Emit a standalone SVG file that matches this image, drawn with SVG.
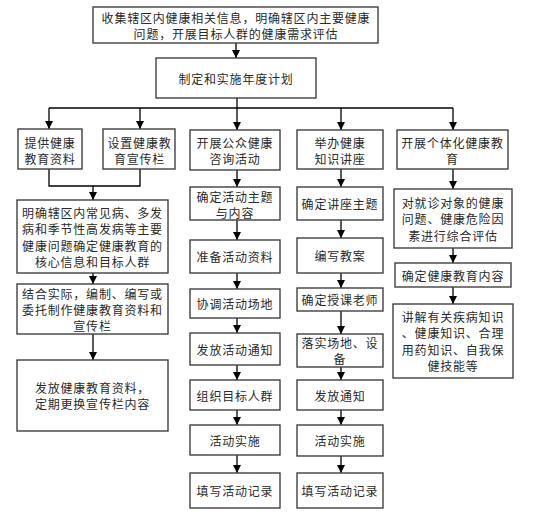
<svg xmlns="http://www.w3.org/2000/svg" width="541" height="517" viewBox="0 0 541 517">
<defs>
<marker id="ah" viewBox="0 0 10 10" refX="10" refY="5" markerWidth="9" markerHeight="8" markerUnits="userSpaceOnUse" orient="auto">
<path d="M0,0 L10,5 L0,10 z" fill="#000"/>
</marker>
</defs>
<style>
.b{fill:#fff;stroke:#404040;stroke-width:1.4}
.t{font-family:"Noto Sans CJK SC","Noto Sans",sans-serif;font-size:12px;letter-spacing:0.8px;fill:#2a2a2a;text-anchor:middle;dominant-baseline:central}
.c{fill:none;stroke:#000;stroke-width:1.3}
.a{marker-end:url(#ah)}
</style>
<rect width="541" height="517" fill="#fff"/>
<g id="connectors">
<line class="c a" x1="236" y1="43" x2="236" y2="58"/>
<polyline class="c" points="237,98 237,108"/>
<line class="c" x1="49" y1="108" x2="453" y2="108"/>
<line class="c a" x1="49" y1="108" x2="49" y2="129"/>
<line class="c a" x1="140" y1="108" x2="140" y2="129"/>
<line class="c a" x1="237" y1="108" x2="237" y2="130"/>
<line class="c a" x1="341" y1="108" x2="341" y2="130"/>
<line class="c a" x1="453" y1="108" x2="453" y2="130"/>
<polyline class="c" points="49,169 49,186 140,186 140,169"/>
<line class="c a" x1="93" y1="186" x2="93" y2="200"/>
<line class="c a" x1="93" y1="273" x2="93" y2="284"/>
<line class="c a" x1="93" y1="334" x2="93" y2="360"/>
<line class="c a" x1="237" y1="170" x2="237" y2="187"/>
<line class="c a" x1="237" y1="220" x2="237" y2="240"/>
<line class="c a" x1="237" y1="273" x2="237" y2="289"/>
<line class="c a" x1="237" y1="318" x2="237" y2="333"/>
<line class="c a" x1="237" y1="365" x2="237" y2="380"/>
<line class="c a" x1="237" y1="410" x2="237" y2="425"/>
<line class="c a" x1="237" y1="455" x2="237" y2="473"/>
<line class="c a" x1="341" y1="169" x2="341" y2="187"/>
<line class="c a" x1="341" y1="220" x2="341" y2="238"/>
<line class="c a" x1="341" y1="273" x2="341" y2="288"/>
<line class="c a" x1="341" y1="311" x2="341" y2="334"/>
<line class="c a" x1="341" y1="367" x2="341" y2="380"/>
<line class="c a" x1="341" y1="410" x2="341" y2="425"/>
<line class="c a" x1="341" y1="456" x2="341" y2="473"/>
<line class="c a" x1="453" y1="169" x2="453" y2="189"/>
<line class="c a" x1="453" y1="248" x2="453" y2="263"/>
<line class="c a" x1="453" y1="287" x2="453" y2="304"/>
</g>
<g id="n_top"><rect class="b" x="93" y="7" width="285" height="36"/><text class="t" x="236" y="17">收集辖区内健康相关信息，明确辖区内主要健康</text><text class="t" x="236" y="33">问题，开展目标人群的健康需求评估</text></g>
<g id="n_plan"><rect class="b" x="156" y="58" width="160" height="40"/><text class="t" x="236" y="78">制定和实施年度计划</text></g>
<g id="n_c1a"><rect class="b" x="18" y="129" width="64" height="40"/><text class="t" x="50" y="142">提供健康</text><text class="t" x="50" y="158">教育资料</text></g>
<g id="n_c2a"><rect class="b" x="103" y="129" width="72" height="40"/><text class="t" x="139.5" y="142">设置健康教</text><text class="t" x="139.5" y="158">育宣传栏</text></g>
<g id="n_c1b"><rect class="b" x="17" y="200" width="151" height="73"/><text class="t" x="92.5" y="212">明确辖区内常见病、多发</text><text class="t" x="92.5" y="228.5">病和季节性高发病等主要</text><text class="t" x="92.5" y="245">健康问题确定健康教育的</text><text class="t" x="92.5" y="261.5">核心信息和目标人群</text></g>
<g id="n_c1c"><rect class="b" x="17" y="284" width="151" height="50"/><text class="t" x="92.5" y="293">结合实际，编制、编写或</text><text class="t" x="92.5" y="309">委托制作健康教育资料和</text><text class="t" x="92.5" y="325">宣传栏</text></g>
<g id="n_c1d"><rect class="b" x="17" y="360" width="151" height="71"/><text class="t" x="92.5" y="387">发放健康教育资料，</text><text class="t" x="92.5" y="403.5">定期更换宣传栏内容</text></g>
<g id="n_c3a"><rect class="b" x="190" y="130" width="90" height="40"/><text class="t" x="235" y="142.5">开展公众健康</text><text class="t" x="235" y="158.5">咨询活动</text></g>
<g id="n_c3b"><rect class="b" x="190" y="187" width="90" height="33"/><text class="t" x="235" y="196">确定活动主题</text><text class="t" x="235" y="212">与内容</text></g>
<g id="n_c3c"><rect class="b" x="190" y="240" width="90" height="33"/><text class="t" x="235" y="256.5">准备活动资料</text></g>
<g id="n_c3d"><rect class="b" x="190" y="289" width="90" height="29"/><text class="t" x="235" y="303.5">协调活动场地</text></g>
<g id="n_c3e"><rect class="b" x="190" y="333" width="90" height="32"/><text class="t" x="235" y="349">发放活动通知</text></g>
<g id="n_c3f"><rect class="b" x="190" y="380" width="90" height="30"/><text class="t" x="235" y="395">组织目标人群</text></g>
<g id="n_c3g"><rect class="b" x="190" y="425" width="90" height="30"/><text class="t" x="235" y="440">活动实施</text></g>
<g id="n_c3h"><rect class="b" x="190" y="473" width="90" height="35"/><text class="t" x="235" y="490.5">填写活动记录</text></g>
<g id="n_c4a"><rect class="b" x="297" y="130" width="86" height="39"/><text class="t" x="340" y="142">举办健康</text><text class="t" x="340" y="158">知识讲座</text></g>
<g id="n_c4b"><rect class="b" x="297" y="187" width="86" height="33"/><text class="t" x="340" y="203.5">确定讲座主题</text></g>
<g id="n_c4c"><rect class="b" x="297" y="238" width="86" height="35"/><text class="t" x="340" y="255.5">编写教案</text></g>
<g id="n_c4d"><rect class="b" x="297" y="288" width="86" height="23"/><text class="t" x="340" y="299.5">确定授课老师</text></g>
<g id="n_c4e"><rect class="b" x="297" y="334" width="86" height="33"/><text class="t" x="340" y="342.5">落实场地、设</text><text class="t" x="340" y="358.5">备</text></g>
<g id="n_c4f"><rect class="b" x="297" y="380" width="86" height="30"/><text class="t" x="340" y="395">发放通知</text></g>
<g id="n_c4g"><rect class="b" x="297" y="425" width="86" height="31"/><text class="t" x="340" y="440.5">活动实施</text></g>
<g id="n_c4h"><rect class="b" x="297" y="473" width="86" height="35"/><text class="t" x="340" y="490.5">填写活动记录</text></g>
<g id="n_c5a"><rect class="b" x="397" y="130" width="111" height="39"/><text class="t" x="452.5" y="142">开展个体化健康教</text><text class="t" x="452.5" y="158">育</text></g>
<g id="n_c5b"><rect class="b" x="394" y="189" width="118" height="59"/><text class="t" x="453" y="202">对就诊对象的健康</text><text class="t" x="453" y="218.5">问题、健康危险因</text><text class="t" x="453" y="235">素进行综合评估</text></g>
<g id="n_c5c"><rect class="b" x="395" y="263" width="116" height="24"/><text class="t" x="453" y="275">确定健康教育内容</text></g>
<g id="n_c5d"><rect class="b" x="393" y="304" width="120" height="74"/><text class="t" x="453" y="316">讲解有关疾病知识</text><text class="t" x="453" y="332.5">、健康知识、合理</text><text class="t" x="453" y="349">用药知识、自我保</text><text class="t" x="453" y="365.5">健技能等</text></g>
</svg>
